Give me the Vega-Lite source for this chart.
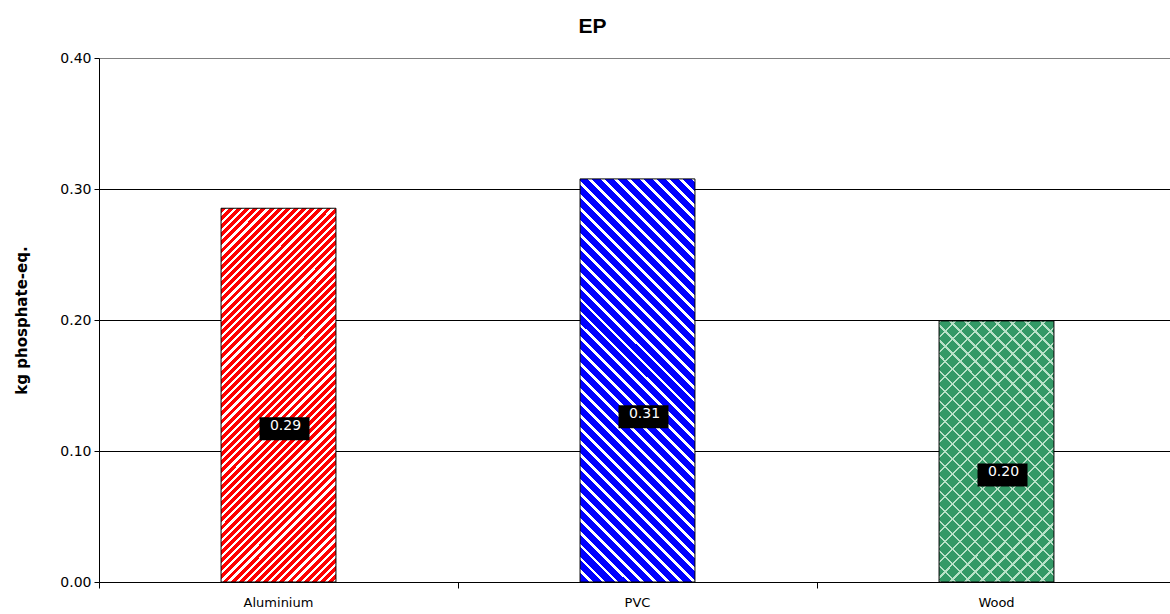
{
  "$schema": "https://vega.github.io/schema/vega-lite/v6.json",
  "width": 1071,
  "height": 524,
  "autosize": {"type": "none"},
  "padding": {"left": 99, "top": 58, "right": 0, "bottom": 32},
  "background": "white",
  "config": {"view": {"stroke": null}},
  "title": {"text": "EP", "font": "Liberation Sans", "fontSize": 21, "fontWeight": "bold", "color": "black", "anchor": "middle", "frame": "group", "offset": 25, "baseline": "alphabetic", "dx": -42, "dy": 28},
  "data": {"values": [
    {"material": "Aluminium", "value": 0.2853},
    {"material": "PVC", "value": 0.3077},
    {"material": "Wood", "value": 0.1993}
  ]},
  "transform": [{"calculate": "datum.value * 0.41", "as": "labelY"}],
  "encoding": {
    "x": {"field": "material", "type": "nominal",
      "scale": {"domain": ["Aluminium", "PVC", "Wood"], "range": [0, 1077], "paddingInner": 0, "paddingOuter": 0},
      "axis": {"title": null, "labelAngle": 0, "labelFont": "DejaVu Sans", "labelFontSize": 13, "labelColor": "black", "tickColor": "black", "domainColor": "black", "tickSize": 6, "labelPadding": 8, "bandPosition": 0, "grid": false}},
    "y": {"field": "value", "type": "quantitative", "title": "kg phosphate-eq.",
      "scale": {"domain": [0, 0.4], "nice": false},
      "axis": {"values": [0, 0.1, 0.2, 0.3, 0.4], "format": ".2f", "labelFont": "DejaVu Sans", "labelFontSize": 14, "labelColor": "black", "tickColor": "black", "domainColor": "black", "tickSize": 5, "labelPadding": 3, "grid": true, "gridColor": {"condition": {"test": "datum.value >= 0.39", "value": "#808080"}, "value": "black"}, "gridOpacity": 1, "titleFont": "DejaVu Sans", "titleFontSize": 15, "titleFontWeight": "bold", "titleColor": "black", "titlePadding": 30}}
  },
  "layer": [
    {"transform": [{"filter": "datum.material === 'Aluminium'"}],
     "mark": {"type": "bar", "width": {"band": 0.32}, "stroke": "black", "strokeWidth": 1,
      "fill": {"gradient": "linear", "x1": 0, "y1": 0, "x2": 0.3676, "y2": 1.1946, "stops": [
{"offset":0,"color":"#f00"},{"offset":0.01,"color":"#f00"},{"offset":0.01,"color":"#fff"},{"offset":0.0167,"color":"#fff"},
{"offset":0.0167,"color":"#f00"},{"offset":0.0267,"color":"#f00"},{"offset":0.0267,"color":"#fff"},{"offset":0.0333,"color":"#fff"},
{"offset":0.0333,"color":"#f00"},{"offset":0.0433,"color":"#f00"},{"offset":0.0433,"color":"#fff"},{"offset":0.05,"color":"#fff"},
{"offset":0.05,"color":"#f00"},{"offset":0.06,"color":"#f00"},{"offset":0.06,"color":"#fff"},{"offset":0.0667,"color":"#fff"},
{"offset":0.0667,"color":"#f00"},{"offset":0.0767,"color":"#f00"},{"offset":0.0767,"color":"#fff"},{"offset":0.0833,"color":"#fff"},
{"offset":0.0833,"color":"#f00"},{"offset":0.0933,"color":"#f00"},{"offset":0.0933,"color":"#fff"},{"offset":0.1,"color":"#fff"},
{"offset":0.1,"color":"#f00"},{"offset":0.11,"color":"#f00"},{"offset":0.11,"color":"#fff"},{"offset":0.1167,"color":"#fff"},
{"offset":0.1167,"color":"#f00"},{"offset":0.1267,"color":"#f00"},{"offset":0.1267,"color":"#fff"},{"offset":0.1333,"color":"#fff"},
{"offset":0.1333,"color":"#f00"},{"offset":0.1433,"color":"#f00"},{"offset":0.1433,"color":"#fff"},{"offset":0.15,"color":"#fff"},
{"offset":0.15,"color":"#f00"},{"offset":0.16,"color":"#f00"},{"offset":0.16,"color":"#fff"},{"offset":0.1667,"color":"#fff"},
{"offset":0.1667,"color":"#f00"},{"offset":0.1767,"color":"#f00"},{"offset":0.1767,"color":"#fff"},{"offset":0.1833,"color":"#fff"},
{"offset":0.1833,"color":"#f00"},{"offset":0.1933,"color":"#f00"},{"offset":0.1933,"color":"#fff"},{"offset":0.2,"color":"#fff"},
{"offset":0.2,"color":"#f00"},{"offset":0.21,"color":"#f00"},{"offset":0.21,"color":"#fff"},{"offset":0.2167,"color":"#fff"},
{"offset":0.2167,"color":"#f00"},{"offset":0.2267,"color":"#f00"},{"offset":0.2267,"color":"#fff"},{"offset":0.2333,"color":"#fff"},
{"offset":0.2333,"color":"#f00"},{"offset":0.2433,"color":"#f00"},{"offset":0.2433,"color":"#fff"},{"offset":0.25,"color":"#fff"},
{"offset":0.25,"color":"#f00"},{"offset":0.26,"color":"#f00"},{"offset":0.26,"color":"#fff"},{"offset":0.2667,"color":"#fff"},
{"offset":0.2667,"color":"#f00"},{"offset":0.2767,"color":"#f00"},{"offset":0.2767,"color":"#fff"},{"offset":0.2833,"color":"#fff"},
{"offset":0.2833,"color":"#f00"},{"offset":0.2933,"color":"#f00"},{"offset":0.2933,"color":"#fff"},{"offset":0.3,"color":"#fff"},
{"offset":0.3,"color":"#f00"},{"offset":0.31,"color":"#f00"},{"offset":0.31,"color":"#fff"},{"offset":0.3167,"color":"#fff"},
{"offset":0.3167,"color":"#f00"},{"offset":0.3267,"color":"#f00"},{"offset":0.3267,"color":"#fff"},{"offset":0.3333,"color":"#fff"},
{"offset":0.3333,"color":"#f00"},{"offset":0.3433,"color":"#f00"},{"offset":0.3433,"color":"#fff"},{"offset":0.35,"color":"#fff"},
{"offset":0.35,"color":"#f00"},{"offset":0.36,"color":"#f00"},{"offset":0.36,"color":"#fff"},{"offset":0.3667,"color":"#fff"},
{"offset":0.3667,"color":"#f00"},{"offset":0.3767,"color":"#f00"},{"offset":0.3767,"color":"#fff"},{"offset":0.3833,"color":"#fff"},
{"offset":0.3833,"color":"#f00"},{"offset":0.3933,"color":"#f00"},{"offset":0.3933,"color":"#fff"},{"offset":0.4,"color":"#fff"},
{"offset":0.4,"color":"#f00"},{"offset":0.41,"color":"#f00"},{"offset":0.41,"color":"#fff"},{"offset":0.4167,"color":"#fff"},
{"offset":0.4167,"color":"#f00"},{"offset":0.4267,"color":"#f00"},{"offset":0.4267,"color":"#fff"},{"offset":0.4333,"color":"#fff"},
{"offset":0.4333,"color":"#f00"},{"offset":0.4433,"color":"#f00"},{"offset":0.4433,"color":"#fff"},{"offset":0.45,"color":"#fff"},
{"offset":0.45,"color":"#f00"},{"offset":0.46,"color":"#f00"},{"offset":0.46,"color":"#fff"},{"offset":0.4667,"color":"#fff"},
{"offset":0.4667,"color":"#f00"},{"offset":0.4767,"color":"#f00"},{"offset":0.4767,"color":"#fff"},{"offset":0.4833,"color":"#fff"},
{"offset":0.4833,"color":"#f00"},{"offset":0.4933,"color":"#f00"},{"offset":0.4933,"color":"#fff"},{"offset":0.5,"color":"#fff"},
{"offset":0.5,"color":"#f00"},{"offset":0.51,"color":"#f00"},{"offset":0.51,"color":"#fff"},{"offset":0.5167,"color":"#fff"},
{"offset":0.5167,"color":"#f00"},{"offset":0.5267,"color":"#f00"},{"offset":0.5267,"color":"#fff"},{"offset":0.5333,"color":"#fff"},
{"offset":0.5333,"color":"#f00"},{"offset":0.5433,"color":"#f00"},{"offset":0.5433,"color":"#fff"},{"offset":0.55,"color":"#fff"},
{"offset":0.55,"color":"#f00"},{"offset":0.56,"color":"#f00"},{"offset":0.56,"color":"#fff"},{"offset":0.5667,"color":"#fff"},
{"offset":0.5667,"color":"#f00"},{"offset":0.5767,"color":"#f00"},{"offset":0.5767,"color":"#fff"},{"offset":0.5833,"color":"#fff"},
{"offset":0.5833,"color":"#f00"},{"offset":0.5933,"color":"#f00"},{"offset":0.5933,"color":"#fff"},{"offset":0.6,"color":"#fff"},
{"offset":0.6,"color":"#f00"},{"offset":0.61,"color":"#f00"},{"offset":0.61,"color":"#fff"},{"offset":0.6167,"color":"#fff"},
{"offset":0.6167,"color":"#f00"},{"offset":0.6267,"color":"#f00"},{"offset":0.6267,"color":"#fff"},{"offset":0.6333,"color":"#fff"},
{"offset":0.6333,"color":"#f00"},{"offset":0.6433,"color":"#f00"},{"offset":0.6433,"color":"#fff"},{"offset":0.65,"color":"#fff"},
{"offset":0.65,"color":"#f00"},{"offset":0.66,"color":"#f00"},{"offset":0.66,"color":"#fff"},{"offset":0.6667,"color":"#fff"},
{"offset":0.6667,"color":"#f00"},{"offset":0.6767,"color":"#f00"},{"offset":0.6767,"color":"#fff"},{"offset":0.6833,"color":"#fff"},
{"offset":0.6833,"color":"#f00"},{"offset":0.6933,"color":"#f00"},{"offset":0.6933,"color":"#fff"},{"offset":0.7,"color":"#fff"},
{"offset":0.7,"color":"#f00"},{"offset":0.71,"color":"#f00"},{"offset":0.71,"color":"#fff"},{"offset":0.7167,"color":"#fff"},
{"offset":0.7167,"color":"#f00"},{"offset":0.7267,"color":"#f00"},{"offset":0.7267,"color":"#fff"},{"offset":0.7333,"color":"#fff"},
{"offset":0.7333,"color":"#f00"},{"offset":0.7433,"color":"#f00"},{"offset":0.7433,"color":"#fff"},{"offset":0.75,"color":"#fff"},
{"offset":0.75,"color":"#f00"},{"offset":0.76,"color":"#f00"},{"offset":0.76,"color":"#fff"},{"offset":0.7667,"color":"#fff"},
{"offset":0.7667,"color":"#f00"},{"offset":0.7767,"color":"#f00"},{"offset":0.7767,"color":"#fff"},{"offset":0.7833,"color":"#fff"},
{"offset":0.7833,"color":"#f00"},{"offset":0.7933,"color":"#f00"},{"offset":0.7933,"color":"#fff"},{"offset":0.8,"color":"#fff"},
{"offset":0.8,"color":"#f00"},{"offset":0.81,"color":"#f00"},{"offset":0.81,"color":"#fff"},{"offset":0.8167,"color":"#fff"},
{"offset":0.8167,"color":"#f00"},{"offset":0.8267,"color":"#f00"},{"offset":0.8267,"color":"#fff"},{"offset":0.8333,"color":"#fff"},
{"offset":0.8333,"color":"#f00"},{"offset":0.8433,"color":"#f00"},{"offset":0.8433,"color":"#fff"},{"offset":0.85,"color":"#fff"},
{"offset":0.85,"color":"#f00"},{"offset":0.86,"color":"#f00"},{"offset":0.86,"color":"#fff"},{"offset":0.8667,"color":"#fff"},
{"offset":0.8667,"color":"#f00"},{"offset":0.8767,"color":"#f00"},{"offset":0.8767,"color":"#fff"},{"offset":0.8833,"color":"#fff"},
{"offset":0.8833,"color":"#f00"},{"offset":0.8933,"color":"#f00"},{"offset":0.8933,"color":"#fff"},{"offset":0.9,"color":"#fff"},
{"offset":0.9,"color":"#f00"},{"offset":0.91,"color":"#f00"},{"offset":0.91,"color":"#fff"},{"offset":0.9167,"color":"#fff"},
{"offset":0.9167,"color":"#f00"},{"offset":0.9267,"color":"#f00"},{"offset":0.9267,"color":"#fff"},{"offset":0.9333,"color":"#fff"},
{"offset":0.9333,"color":"#f00"},{"offset":0.9433,"color":"#f00"},{"offset":0.9433,"color":"#fff"},{"offset":0.95,"color":"#fff"},
{"offset":0.95,"color":"#f00"},{"offset":0.96,"color":"#f00"},{"offset":0.96,"color":"#fff"},{"offset":0.9667,"color":"#fff"},
{"offset":0.9667,"color":"#f00"},{"offset":0.9767,"color":"#f00"},{"offset":0.9767,"color":"#fff"},{"offset":0.9833,"color":"#fff"},
{"offset":0.9833,"color":"#f00"},{"offset":0.9933,"color":"#f00"},{"offset":0.9933,"color":"#fff"},{"offset":1,"color":"#fff"}
      ]}}},
    {"transform": [{"filter": "datum.material === 'PVC'"}],
     "mark": {"type": "bar", "width": {"band": 0.32}, "stroke": "black", "strokeWidth": 1,
      "fill": {"gradient": "linear", "x1": 0, "y1": 1, "x2": 0.3384, "y2": -0.1884, "stops": [
{"offset":0,"color":"#00f"},{"offset":0.0175,"color":"#00f"},{"offset":0.0175,"color":"#fff"},{"offset":0.025,"color":"#fff"},
{"offset":0.025,"color":"#00f"},{"offset":0.0425,"color":"#00f"},{"offset":0.0425,"color":"#fff"},{"offset":0.05,"color":"#fff"},
{"offset":0.05,"color":"#00f"},{"offset":0.0675,"color":"#00f"},{"offset":0.0675,"color":"#fff"},{"offset":0.075,"color":"#fff"},
{"offset":0.075,"color":"#00f"},{"offset":0.0925,"color":"#00f"},{"offset":0.0925,"color":"#fff"},{"offset":0.1,"color":"#fff"},
{"offset":0.1,"color":"#00f"},{"offset":0.1175,"color":"#00f"},{"offset":0.1175,"color":"#fff"},{"offset":0.125,"color":"#fff"},
{"offset":0.125,"color":"#00f"},{"offset":0.1425,"color":"#00f"},{"offset":0.1425,"color":"#fff"},{"offset":0.15,"color":"#fff"},
{"offset":0.15,"color":"#00f"},{"offset":0.1675,"color":"#00f"},{"offset":0.1675,"color":"#fff"},{"offset":0.175,"color":"#fff"},
{"offset":0.175,"color":"#00f"},{"offset":0.1925,"color":"#00f"},{"offset":0.1925,"color":"#fff"},{"offset":0.2,"color":"#fff"},
{"offset":0.2,"color":"#00f"},{"offset":0.2175,"color":"#00f"},{"offset":0.2175,"color":"#fff"},{"offset":0.225,"color":"#fff"},
{"offset":0.225,"color":"#00f"},{"offset":0.2425,"color":"#00f"},{"offset":0.2425,"color":"#fff"},{"offset":0.25,"color":"#fff"},
{"offset":0.25,"color":"#00f"},{"offset":0.2675,"color":"#00f"},{"offset":0.2675,"color":"#fff"},{"offset":0.275,"color":"#fff"},
{"offset":0.275,"color":"#00f"},{"offset":0.2925,"color":"#00f"},{"offset":0.2925,"color":"#fff"},{"offset":0.3,"color":"#fff"},
{"offset":0.3,"color":"#00f"},{"offset":0.3175,"color":"#00f"},{"offset":0.3175,"color":"#fff"},{"offset":0.325,"color":"#fff"},
{"offset":0.325,"color":"#00f"},{"offset":0.3425,"color":"#00f"},{"offset":0.3425,"color":"#fff"},{"offset":0.35,"color":"#fff"},
{"offset":0.35,"color":"#00f"},{"offset":0.3675,"color":"#00f"},{"offset":0.3675,"color":"#fff"},{"offset":0.375,"color":"#fff"},
{"offset":0.375,"color":"#00f"},{"offset":0.3925,"color":"#00f"},{"offset":0.3925,"color":"#fff"},{"offset":0.4,"color":"#fff"},
{"offset":0.4,"color":"#00f"},{"offset":0.4175,"color":"#00f"},{"offset":0.4175,"color":"#fff"},{"offset":0.425,"color":"#fff"},
{"offset":0.425,"color":"#00f"},{"offset":0.4425,"color":"#00f"},{"offset":0.4425,"color":"#fff"},{"offset":0.45,"color":"#fff"},
{"offset":0.45,"color":"#00f"},{"offset":0.4675,"color":"#00f"},{"offset":0.4675,"color":"#fff"},{"offset":0.475,"color":"#fff"},
{"offset":0.475,"color":"#00f"},{"offset":0.4925,"color":"#00f"},{"offset":0.4925,"color":"#fff"},{"offset":0.5,"color":"#fff"},
{"offset":0.5,"color":"#00f"},{"offset":0.5175,"color":"#00f"},{"offset":0.5175,"color":"#fff"},{"offset":0.525,"color":"#fff"},
{"offset":0.525,"color":"#00f"},{"offset":0.5425,"color":"#00f"},{"offset":0.5425,"color":"#fff"},{"offset":0.55,"color":"#fff"},
{"offset":0.55,"color":"#00f"},{"offset":0.5675,"color":"#00f"},{"offset":0.5675,"color":"#fff"},{"offset":0.575,"color":"#fff"},
{"offset":0.575,"color":"#00f"},{"offset":0.5925,"color":"#00f"},{"offset":0.5925,"color":"#fff"},{"offset":0.6,"color":"#fff"},
{"offset":0.6,"color":"#00f"},{"offset":0.6175,"color":"#00f"},{"offset":0.6175,"color":"#fff"},{"offset":0.625,"color":"#fff"},
{"offset":0.625,"color":"#00f"},{"offset":0.6425,"color":"#00f"},{"offset":0.6425,"color":"#fff"},{"offset":0.65,"color":"#fff"},
{"offset":0.65,"color":"#00f"},{"offset":0.6675,"color":"#00f"},{"offset":0.6675,"color":"#fff"},{"offset":0.675,"color":"#fff"},
{"offset":0.675,"color":"#00f"},{"offset":0.6925,"color":"#00f"},{"offset":0.6925,"color":"#fff"},{"offset":0.7,"color":"#fff"},
{"offset":0.7,"color":"#00f"},{"offset":0.7175,"color":"#00f"},{"offset":0.7175,"color":"#fff"},{"offset":0.725,"color":"#fff"},
{"offset":0.725,"color":"#00f"},{"offset":0.7425,"color":"#00f"},{"offset":0.7425,"color":"#fff"},{"offset":0.75,"color":"#fff"},
{"offset":0.75,"color":"#00f"},{"offset":0.7675,"color":"#00f"},{"offset":0.7675,"color":"#fff"},{"offset":0.775,"color":"#fff"},
{"offset":0.775,"color":"#00f"},{"offset":0.7925,"color":"#00f"},{"offset":0.7925,"color":"#fff"},{"offset":0.8,"color":"#fff"},
{"offset":0.8,"color":"#00f"},{"offset":0.8175,"color":"#00f"},{"offset":0.8175,"color":"#fff"},{"offset":0.825,"color":"#fff"},
{"offset":0.825,"color":"#00f"},{"offset":0.8425,"color":"#00f"},{"offset":0.8425,"color":"#fff"},{"offset":0.85,"color":"#fff"},
{"offset":0.85,"color":"#00f"},{"offset":0.8675,"color":"#00f"},{"offset":0.8675,"color":"#fff"},{"offset":0.875,"color":"#fff"},
{"offset":0.875,"color":"#00f"},{"offset":0.8925,"color":"#00f"},{"offset":0.8925,"color":"#fff"},{"offset":0.9,"color":"#fff"},
{"offset":0.9,"color":"#00f"},{"offset":0.9175,"color":"#00f"},{"offset":0.9175,"color":"#fff"},{"offset":0.925,"color":"#fff"},
{"offset":0.925,"color":"#00f"},{"offset":0.9425,"color":"#00f"},{"offset":0.9425,"color":"#fff"},{"offset":0.95,"color":"#fff"},
{"offset":0.95,"color":"#00f"},{"offset":0.9675,"color":"#00f"},{"offset":0.9675,"color":"#fff"},{"offset":0.975,"color":"#fff"},
{"offset":0.975,"color":"#00f"},{"offset":0.9925,"color":"#00f"},{"offset":0.9925,"color":"#fff"},{"offset":1,"color":"#fff"}
      ]}}},
    {"transform": [{"filter": "datum.material === 'Wood'"}],
     "mark": {"type": "bar", "width": {"band": 0.32}, "fill": "#339966", "stroke": null}},
    {"transform": [{"filter": "datum.material === 'Wood'"}],
     "mark": {"type": "bar", "width": {"band": 0.32}, "stroke": null,
      "fill": {"gradient": "linear", "x1": 0, "y1": 0, "x2": 0.5317, "y2": 1.2064, "stops": [
{"offset":0,"color":"#b8e2c8"},{"offset":0.006,"color":"#b8e2c8"},{"offset":0.006,"color":"rgba(0,0,0,0)"},{"offset":0.04,"color":"rgba(0,0,0,0)"},
{"offset":0.04,"color":"#b8e2c8"},{"offset":0.046,"color":"#b8e2c8"},{"offset":0.046,"color":"rgba(0,0,0,0)"},{"offset":0.08,"color":"rgba(0,0,0,0)"},
{"offset":0.08,"color":"#b8e2c8"},{"offset":0.086,"color":"#b8e2c8"},{"offset":0.086,"color":"rgba(0,0,0,0)"},{"offset":0.12,"color":"rgba(0,0,0,0)"},
{"offset":0.12,"color":"#b8e2c8"},{"offset":0.126,"color":"#b8e2c8"},{"offset":0.126,"color":"rgba(0,0,0,0)"},{"offset":0.16,"color":"rgba(0,0,0,0)"},
{"offset":0.16,"color":"#b8e2c8"},{"offset":0.166,"color":"#b8e2c8"},{"offset":0.166,"color":"rgba(0,0,0,0)"},{"offset":0.2,"color":"rgba(0,0,0,0)"},
{"offset":0.2,"color":"#b8e2c8"},{"offset":0.206,"color":"#b8e2c8"},{"offset":0.206,"color":"rgba(0,0,0,0)"},{"offset":0.24,"color":"rgba(0,0,0,0)"},
{"offset":0.24,"color":"#b8e2c8"},{"offset":0.246,"color":"#b8e2c8"},{"offset":0.246,"color":"rgba(0,0,0,0)"},{"offset":0.28,"color":"rgba(0,0,0,0)"},
{"offset":0.28,"color":"#b8e2c8"},{"offset":0.286,"color":"#b8e2c8"},{"offset":0.286,"color":"rgba(0,0,0,0)"},{"offset":0.32,"color":"rgba(0,0,0,0)"},
{"offset":0.32,"color":"#b8e2c8"},{"offset":0.326,"color":"#b8e2c8"},{"offset":0.326,"color":"rgba(0,0,0,0)"},{"offset":0.36,"color":"rgba(0,0,0,0)"},
{"offset":0.36,"color":"#b8e2c8"},{"offset":0.366,"color":"#b8e2c8"},{"offset":0.366,"color":"rgba(0,0,0,0)"},{"offset":0.4,"color":"rgba(0,0,0,0)"},
{"offset":0.4,"color":"#b8e2c8"},{"offset":0.406,"color":"#b8e2c8"},{"offset":0.406,"color":"rgba(0,0,0,0)"},{"offset":0.44,"color":"rgba(0,0,0,0)"},
{"offset":0.44,"color":"#b8e2c8"},{"offset":0.446,"color":"#b8e2c8"},{"offset":0.446,"color":"rgba(0,0,0,0)"},{"offset":0.48,"color":"rgba(0,0,0,0)"},
{"offset":0.48,"color":"#b8e2c8"},{"offset":0.486,"color":"#b8e2c8"},{"offset":0.486,"color":"rgba(0,0,0,0)"},{"offset":0.52,"color":"rgba(0,0,0,0)"},
{"offset":0.52,"color":"#b8e2c8"},{"offset":0.526,"color":"#b8e2c8"},{"offset":0.526,"color":"rgba(0,0,0,0)"},{"offset":0.56,"color":"rgba(0,0,0,0)"},
{"offset":0.56,"color":"#b8e2c8"},{"offset":0.566,"color":"#b8e2c8"},{"offset":0.566,"color":"rgba(0,0,0,0)"},{"offset":0.6,"color":"rgba(0,0,0,0)"},
{"offset":0.6,"color":"#b8e2c8"},{"offset":0.606,"color":"#b8e2c8"},{"offset":0.606,"color":"rgba(0,0,0,0)"},{"offset":0.64,"color":"rgba(0,0,0,0)"},
{"offset":0.64,"color":"#b8e2c8"},{"offset":0.646,"color":"#b8e2c8"},{"offset":0.646,"color":"rgba(0,0,0,0)"},{"offset":0.68,"color":"rgba(0,0,0,0)"},
{"offset":0.68,"color":"#b8e2c8"},{"offset":0.686,"color":"#b8e2c8"},{"offset":0.686,"color":"rgba(0,0,0,0)"},{"offset":0.72,"color":"rgba(0,0,0,0)"},
{"offset":0.72,"color":"#b8e2c8"},{"offset":0.726,"color":"#b8e2c8"},{"offset":0.726,"color":"rgba(0,0,0,0)"},{"offset":0.76,"color":"rgba(0,0,0,0)"},
{"offset":0.76,"color":"#b8e2c8"},{"offset":0.766,"color":"#b8e2c8"},{"offset":0.766,"color":"rgba(0,0,0,0)"},{"offset":0.8,"color":"rgba(0,0,0,0)"},
{"offset":0.8,"color":"#b8e2c8"},{"offset":0.806,"color":"#b8e2c8"},{"offset":0.806,"color":"rgba(0,0,0,0)"},{"offset":0.84,"color":"rgba(0,0,0,0)"},
{"offset":0.84,"color":"#b8e2c8"},{"offset":0.846,"color":"#b8e2c8"},{"offset":0.846,"color":"rgba(0,0,0,0)"},{"offset":0.88,"color":"rgba(0,0,0,0)"},
{"offset":0.88,"color":"#b8e2c8"},{"offset":0.886,"color":"#b8e2c8"},{"offset":0.886,"color":"rgba(0,0,0,0)"},{"offset":0.92,"color":"rgba(0,0,0,0)"},
{"offset":0.92,"color":"#b8e2c8"},{"offset":0.926,"color":"#b8e2c8"},{"offset":0.926,"color":"rgba(0,0,0,0)"},{"offset":0.96,"color":"rgba(0,0,0,0)"},
{"offset":0.96,"color":"#b8e2c8"},{"offset":0.966,"color":"#b8e2c8"},{"offset":0.966,"color":"rgba(0,0,0,0)"},{"offset":1,"color":"rgba(0,0,0,0)"}
      ]}}},
    {"transform": [{"filter": "datum.material === 'Wood'"}],
     "mark": {"type": "bar", "width": {"band": 0.32}, "stroke": "black", "strokeWidth": 1,
      "fill": {"gradient": "linear", "x1": 0, "y1": 1, "x2": 0.5317, "y2": -0.2064, "stops": [
{"offset":0,"color":"#b8e2c8"},{"offset":0.006,"color":"#b8e2c8"},{"offset":0.006,"color":"rgba(0,0,0,0)"},{"offset":0.04,"color":"rgba(0,0,0,0)"},
{"offset":0.04,"color":"#b8e2c8"},{"offset":0.046,"color":"#b8e2c8"},{"offset":0.046,"color":"rgba(0,0,0,0)"},{"offset":0.08,"color":"rgba(0,0,0,0)"},
{"offset":0.08,"color":"#b8e2c8"},{"offset":0.086,"color":"#b8e2c8"},{"offset":0.086,"color":"rgba(0,0,0,0)"},{"offset":0.12,"color":"rgba(0,0,0,0)"},
{"offset":0.12,"color":"#b8e2c8"},{"offset":0.126,"color":"#b8e2c8"},{"offset":0.126,"color":"rgba(0,0,0,0)"},{"offset":0.16,"color":"rgba(0,0,0,0)"},
{"offset":0.16,"color":"#b8e2c8"},{"offset":0.166,"color":"#b8e2c8"},{"offset":0.166,"color":"rgba(0,0,0,0)"},{"offset":0.2,"color":"rgba(0,0,0,0)"},
{"offset":0.2,"color":"#b8e2c8"},{"offset":0.206,"color":"#b8e2c8"},{"offset":0.206,"color":"rgba(0,0,0,0)"},{"offset":0.24,"color":"rgba(0,0,0,0)"},
{"offset":0.24,"color":"#b8e2c8"},{"offset":0.246,"color":"#b8e2c8"},{"offset":0.246,"color":"rgba(0,0,0,0)"},{"offset":0.28,"color":"rgba(0,0,0,0)"},
{"offset":0.28,"color":"#b8e2c8"},{"offset":0.286,"color":"#b8e2c8"},{"offset":0.286,"color":"rgba(0,0,0,0)"},{"offset":0.32,"color":"rgba(0,0,0,0)"},
{"offset":0.32,"color":"#b8e2c8"},{"offset":0.326,"color":"#b8e2c8"},{"offset":0.326,"color":"rgba(0,0,0,0)"},{"offset":0.36,"color":"rgba(0,0,0,0)"},
{"offset":0.36,"color":"#b8e2c8"},{"offset":0.366,"color":"#b8e2c8"},{"offset":0.366,"color":"rgba(0,0,0,0)"},{"offset":0.4,"color":"rgba(0,0,0,0)"},
{"offset":0.4,"color":"#b8e2c8"},{"offset":0.406,"color":"#b8e2c8"},{"offset":0.406,"color":"rgba(0,0,0,0)"},{"offset":0.44,"color":"rgba(0,0,0,0)"},
{"offset":0.44,"color":"#b8e2c8"},{"offset":0.446,"color":"#b8e2c8"},{"offset":0.446,"color":"rgba(0,0,0,0)"},{"offset":0.48,"color":"rgba(0,0,0,0)"},
{"offset":0.48,"color":"#b8e2c8"},{"offset":0.486,"color":"#b8e2c8"},{"offset":0.486,"color":"rgba(0,0,0,0)"},{"offset":0.52,"color":"rgba(0,0,0,0)"},
{"offset":0.52,"color":"#b8e2c8"},{"offset":0.526,"color":"#b8e2c8"},{"offset":0.526,"color":"rgba(0,0,0,0)"},{"offset":0.56,"color":"rgba(0,0,0,0)"},
{"offset":0.56,"color":"#b8e2c8"},{"offset":0.566,"color":"#b8e2c8"},{"offset":0.566,"color":"rgba(0,0,0,0)"},{"offset":0.6,"color":"rgba(0,0,0,0)"},
{"offset":0.6,"color":"#b8e2c8"},{"offset":0.606,"color":"#b8e2c8"},{"offset":0.606,"color":"rgba(0,0,0,0)"},{"offset":0.64,"color":"rgba(0,0,0,0)"},
{"offset":0.64,"color":"#b8e2c8"},{"offset":0.646,"color":"#b8e2c8"},{"offset":0.646,"color":"rgba(0,0,0,0)"},{"offset":0.68,"color":"rgba(0,0,0,0)"},
{"offset":0.68,"color":"#b8e2c8"},{"offset":0.686,"color":"#b8e2c8"},{"offset":0.686,"color":"rgba(0,0,0,0)"},{"offset":0.72,"color":"rgba(0,0,0,0)"},
{"offset":0.72,"color":"#b8e2c8"},{"offset":0.726,"color":"#b8e2c8"},{"offset":0.726,"color":"rgba(0,0,0,0)"},{"offset":0.76,"color":"rgba(0,0,0,0)"},
{"offset":0.76,"color":"#b8e2c8"},{"offset":0.766,"color":"#b8e2c8"},{"offset":0.766,"color":"rgba(0,0,0,0)"},{"offset":0.8,"color":"rgba(0,0,0,0)"},
{"offset":0.8,"color":"#b8e2c8"},{"offset":0.806,"color":"#b8e2c8"},{"offset":0.806,"color":"rgba(0,0,0,0)"},{"offset":0.84,"color":"rgba(0,0,0,0)"},
{"offset":0.84,"color":"#b8e2c8"},{"offset":0.846,"color":"#b8e2c8"},{"offset":0.846,"color":"rgba(0,0,0,0)"},{"offset":0.88,"color":"rgba(0,0,0,0)"},
{"offset":0.88,"color":"#b8e2c8"},{"offset":0.886,"color":"#b8e2c8"},{"offset":0.886,"color":"rgba(0,0,0,0)"},{"offset":0.92,"color":"rgba(0,0,0,0)"},
{"offset":0.92,"color":"#b8e2c8"},{"offset":0.926,"color":"#b8e2c8"},{"offset":0.926,"color":"rgba(0,0,0,0)"},{"offset":0.96,"color":"rgba(0,0,0,0)"},
{"offset":0.96,"color":"#b8e2c8"},{"offset":0.966,"color":"#b8e2c8"},{"offset":0.966,"color":"rgba(0,0,0,0)"},{"offset":1,"color":"rgba(0,0,0,0)"}
      ]}}},
    {"mark": {"type": "point", "shape": "M-1,-0.46H1V0.46H-1Z", "size": 2500, "filled": true, "color": "black", "opacity": 1, "xOffset": 6},
     "encoding": {"y": {"field": "labelY", "type": "quantitative", "title": "kg phosphate-eq."}}},
    {"mark": {"type": "text", "color": "white", "font": "DejaVu Sans", "fontSize": 14, "baseline": "alphabetic", "dy": 1, "xOffset": 7},
     "encoding": {"y": {"field": "labelY", "type": "quantitative", "title": "kg phosphate-eq."},
      "text": {"field": "value", "type": "quantitative", "format": ".2f"}}}
  ]
}
